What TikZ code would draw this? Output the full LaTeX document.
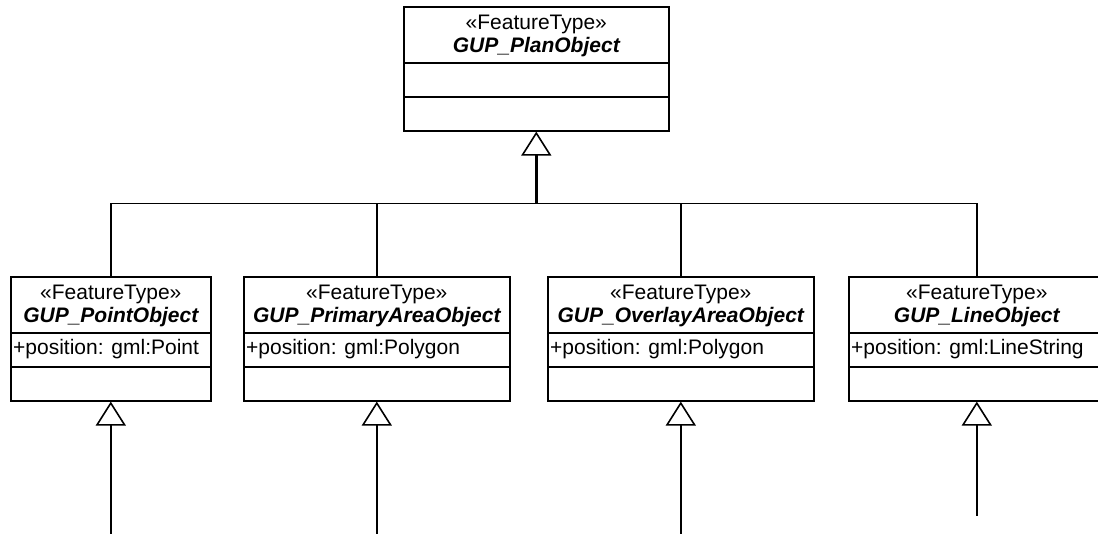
\documentclass[tikz,border=0pt]{standalone}
\usepackage{fontspec}
\setmainfont{Liberation Sans}
\usetikzlibrary{arrows.meta,calc}
\tikzset{
  umlbox/.style={draw, line width=1.6pt, fill=white, inner sep=0pt,
    minimum height=124pt, anchor=north west},
  stereo/.style={font=\fontsize{21}{24}\selectfont, inner sep=0pt},
  classname/.style={font=\fontsize{21}{24}\selectfont\bfseries\itshape, inner sep=0pt},
  attr/.style={font=\fontsize{21}{24}\selectfont, inner sep=0pt, anchor=west},
  link/.style={line width=1.6pt},
  gen/.style={line width=1.6pt,
    -{Triangle[open, length=24pt, width=30pt, line width=1.6pt]}}
}
% UML class box: name, left, top, width, class name, attribute
\newcommand\umlclass[6]{%
  \node[umlbox, minimum width=#4pt] (#1) at (#2,#3) {};
  \draw[line width=1.6pt] ($(#1.north west)+(0,57)$) -- ($(#1.north east)+(0,57)$);
  \draw[line width=1.6pt] ($(#1.north west)+(0,91)$) -- ($(#1.north east)+(0,91)$);
  \node[stereo] (#1-st) at ($(#1.north)+(0,18)$) {«FeatureType»};
  \node[classname] (#1-nm) at ($(#1.north)+(0,41)$) {#5};
  \node[attr] (#1-at) at ($(#1.north west)+(3,73)$) {#6};
}
\begin{document}
\begin{tikzpicture}[x=1pt,y=-1pt]
\useasboundingbox (0,0) rectangle (1098,536);
\clip (0,0) rectangle (1098,536);

\umlclass{plan}{403}{6}{265}{GUP\_PlanObject}{}
\umlclass{point}{10}{276}{200}{GUP\_PointObject}{+position: gml:Point}
\umlclass{primary}{243}{276}{266}{GUP\_PrimaryAreaObject}{+position: gml:Polygon}
\umlclass{overlay}{547}{276}{266}{GUP\_OverlayAreaObject}{+position: gml:Polygon}
\umlclass{line}{848}{276}{256}{GUP\_LineObject}{+position: gml:LineString}

% generalisation tree to the common supertype
\coordinate (bar) at ($(plan.south)+(0,72)$);
\draw[link] (point.north) |- (line.north |- bar) -- (line.north);
\draw[link] (primary.north) -- (primary.north |- bar);
\draw[link] (overlay.north) -- (overlay.north |- bar);
\draw[gen, line width=2.4pt] (bar) -- (plan.south);

% open generalisations from below
\coordinate (point-in) at ($(point.south)+(0,132)$);
\coordinate (primary-in) at ($(primary.south)+(0,132)$);
\coordinate (overlay-in) at ($(overlay.south)+(0,132)$);
\coordinate (line-in) at ($(line.south)+(0,114)$);
\draw[gen] (point-in) -- (point.south);
\draw[gen] (primary-in) -- (primary.south);
\draw[gen] (overlay-in) -- (overlay.south);
\draw[gen] (line-in) -- (line.south);
\end{tikzpicture}
\end{document}
